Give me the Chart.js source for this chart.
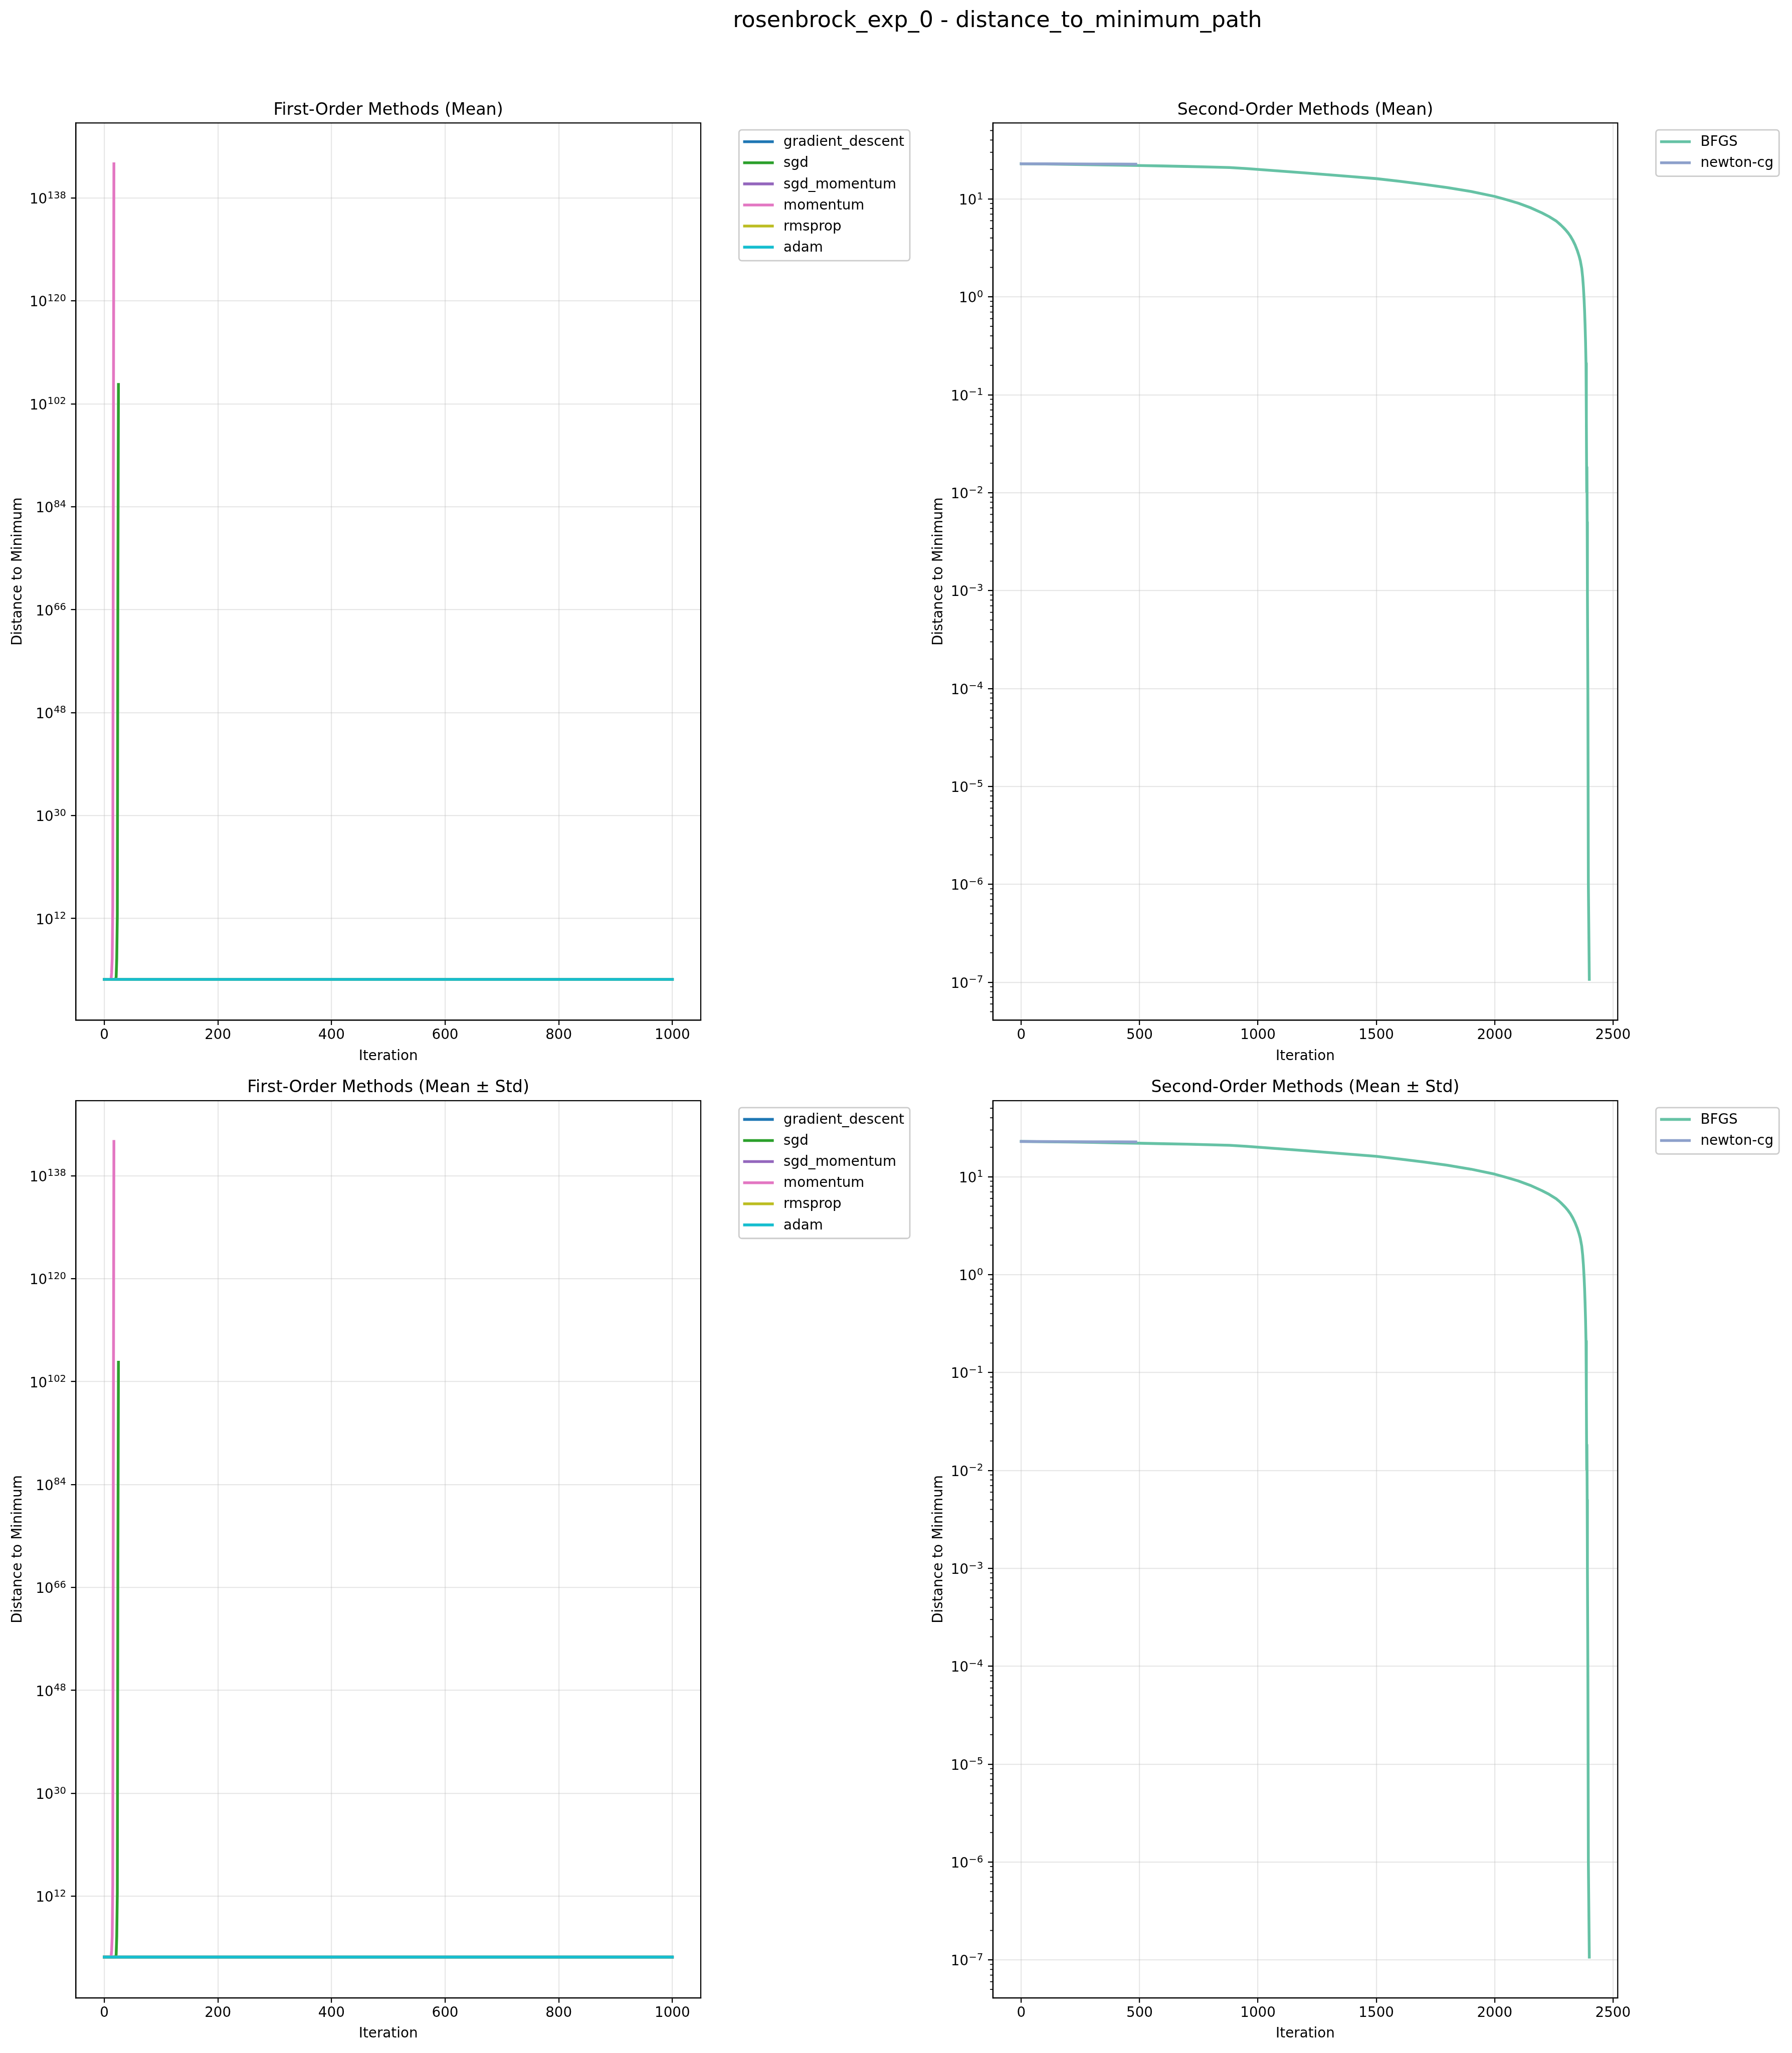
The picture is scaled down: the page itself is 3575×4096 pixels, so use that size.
<!DOCTYPE html>
<html>
<head>
<meta charset="utf-8">
<script src="https://cdn.jsdelivr.net/npm/chart.js"></script>
<style>
  html, body { margin: 0; padding: 0; background: #ffffff; }
  body { width: 3575px; height: 4096px; position: relative; overflow: hidden; }
  canvas { position: absolute; }
  #sup { position: absolute; left: 1990px; top: 17.4px; transform: translateX(-50%);
         font-family: 'DejaVu Sans'; font-size: 44.44px; line-height: 44.44px;
         color: #000; white-space: nowrap; z-index: 10; }
</style>
</head>
<body>
<div id="sup">rosenbrock_exp_0 - distance_to_minimum_path</div>
<canvas id="tl" width="1850" height="2140" style="left:0px;top:0px"></canvas>
<canvas id="tr" width="1725" height="2140" style="left:1850px;top:0px"></canvas>
<canvas id="bl" width="1850" height="1956" style="left:0px;top:2140px"></canvas>
<canvas id="br" width="1725" height="1956" style="left:1850px;top:2140px"></canvas>
<script>
// ---------------- DATA ----------------
const firstOrderMethods = ['gradient_descent', 'sgd', 'sgd_momentum', 'momentum', 'rmsprop', 'adam'];
const firstOrderColors  = ['#1f77b4', '#2ca02c', '#9467bd', '#e377c2', '#bcbd22', '#17becf'];

const gradientDescentIter = [0, 200, 400, 600, 800, 1000];
const gradientDescentDist = [22.91, 22.9, 22.9, 22.9, 22.9, 22.9];

const sgdIter = [0, 10, 20, 21, 22, 23, 24, 25];
const sgdDist = [22.91, 22.9, 23.4, 63, 1e5, 3.2e12, 1e70, 2.5e105];

const sgdMomentumIter = [0, 200, 400, 600, 800, 1000];
const sgdMomentumDist = [22.91, 22.9, 22.9, 22.9, 22.9, 22.9];

const momentumIter = [0, 10, 12, 13, 14, 15, 16, 17];
const momentumDist = [22.91, 22.9, 23.4, 316, 1e5, 1e14, 1e90, 1e144];

const rmspropIter = [0, 200, 400, 600, 800, 1000];
const rmspropDist = [22.91, 22.9, 22.9, 22.9, 22.9, 22.9];

const adamIter = [0, 200, 400, 600, 800, 1000];
const adamDist = [22.91, 22.9, 22.9, 22.9, 22.9, 22.9];

const secondOrderMethods = ['BFGS', 'newton-cg'];
const secondOrderColors  = ['#66c2a5', '#8da0cb'];

const bfgsIter = [0, 100, 200, 300, 400, 500, 600, 700, 800, 880, 950, 1000, 1100, 1200, 1300, 1400,
  1500, 1600, 1700, 1800, 1900, 2000, 2050, 2100, 2150, 2200, 2230, 2260, 2270, 2280, 2290, 2300,
  2310, 2320, 2330, 2340, 2350, 2357, 2362, 2368, 2372, 2375, 2378, 2380, 2382, 2384, 2386, 2387,
  2388, 2389, 2390, 2391, 2392, 2394, 2396, 2400];
const bfgsDist = [22.91, 22.75, 22.59, 22.39, 22.18, 21.98, 21.73, 21.48, 21.18, 20.94, 20.46, 20.04,
  19.23, 18.45, 17.66, 16.90, 16.14, 15.14, 14.13, 13.09, 11.94, 10.62, 9.84, 9.06, 8.17, 7.21, 6.61,
  5.96, 5.69, 5.41, 5.12, 4.83, 4.52, 4.18, 3.80, 3.39, 2.94, 2.60, 2.34, 1.95, 1.58, 1.26, 0.933,
  0.724, 0.525, 0.355, 0.209, 0.141, 0.0562, 0.0102, 0.0182, 0.0050, 1.0e-3, 8.0e-5, 1.0e-6, 1.07e-7];

const newtonCgIter = [0, 100, 200, 300, 400, 484];
const newtonCgDist = [22.91, 22.85, 22.80, 22.76, 22.72, 22.68];

// tick values
const firstOrderXTicks  = [0, 200, 400, 600, 800, 1000];
const secondOrderXTicks = [0, 500, 1000, 1500, 2000, 2500];
const firstOrderYExps   = [12, 30, 48, 66, 84, 102, 120, 138];
const secondOrderYExps  = [-7, -6, -5, -4, -3, -2, -1, 0, 1];

const suptitleText = 'rosenbrock_exp_0 - distance_to_minimum_path';
const titlesTop    = ['First-Order Methods (Mean)', 'Second-Order Methods (Mean)'];
const titlesBottom = ['First-Order Methods (Mean \u00b1 Std)', 'Second-Order Methods (Mean \u00b1 Std)'];
const xAxisLabel = 'Iteration';
const yAxisLabel = 'Distance to Minimum';

// ---------------- STYLE ----------------
const FF = "'DejaVu Sans'";
const FS = 27.78;        // 10pt
const EFS = 19.44;       // superscript size
const TFS = 33.33;       // 12pt
const LW = 5.56;         // 2pt
const SP = 2.22;         // 0.8pt
const GRID = 'rgba(176,176,176,0.3)';
Chart.defaults.font.family = FF;

function logBounds(series) {
  let lo = Infinity, hi = -Infinity;
  series.forEach(s => s.dist.forEach(v => { const l = Math.log10(v); if (l < lo) lo = l; if (l > hi) hi = l; }));
  const p = 0.05 * (hi - lo);
  return [Math.pow(10, lo - p), Math.pow(10, hi + p)];
}
function linBounds(series) {
  let lo = Infinity, hi = -Infinity;
  series.forEach(s => s.iter.forEach(v => { if (v < lo) lo = v; if (v > hi) hi = v; }));
  const p = 0.05 * (hi - lo);
  return [lo - p, hi + p];
}

const decor = {
  id: 'decor',
  afterDraw(chart, args, o) {
    const ctx = chart.ctx, a = chart.chartArea;
    const ys = chart.scales.y;
    ctx.save();
    // minor ticks (log axis)
    if (o.minor) {
      ctx.strokeStyle = '#000'; ctx.lineWidth = 1.67;
      for (let e = -9; e <= 2; e++) {
        for (let m = 2; m <= 9; m++) {
          const v = m * Math.pow(10, e);
          if (v < ys.min || v > ys.max) continue;
          const p = ys.getPixelForValue(v);
          ctx.beginPath(); ctx.moveTo(a.left - 5.56, p); ctx.lineTo(a.left, p); ctx.stroke();
        }
      }
    }
    // y tick labels: 10 with superscript exponent
    ctx.fillStyle = '#000'; ctx.textAlign = 'right'; ctx.textBaseline = 'alphabetic';
    ys.ticks.forEach(t => {
      const p = ys.getPixelForValue(t.value);
      const e = Math.round(Math.log10(t.value));
      const es = (e < 0 ? '\u2212' : '') + Math.abs(e);
      const xr = a.left - 19.44;
      ctx.font = EFS + 'px ' + FF;
      const ew = ctx.measureText(es).width;
      ctx.fillText(es, xr, p + 11.0 - 10.4);
      ctx.font = FS + 'px ' + FF;
      ctx.fillText('10', xr - ew - 0.5, p + 11.0);
    });
    // spines
    ctx.strokeStyle = '#000'; ctx.lineWidth = SP;
    ctx.strokeRect(a.left, a.top, a.right - a.left, a.bottom - a.top);
    // title
    ctx.fillStyle = '#000';
    ctx.textAlign = 'center'; ctx.textBaseline = 'alphabetic';
    ctx.font = TFS + 'px ' + FF;
    ctx.fillText(o.title, (a.left + a.right) / 2, a.top - 16.67);
    // x label
    ctx.font = FS + 'px ' + FF;
    ctx.fillText(xAxisLabel, (a.left + a.right) / 2, a.bottom + 79.3);
    // y label
    ctx.save();
    ctx.translate(o.yLabelX, (a.top + a.bottom) / 2);
    ctx.rotate(-Math.PI / 2);
    ctx.fillText(yAxisLabel, 0, 0);
    ctx.restore();
    // legend
    const pad = 11.11, hl = 55.56, htp = 22.22, ls = 13.89, rowH = 28.2;
    ctx.font = FS + 'px ' + FF;
    const items = chart.data.datasets.map(d => ({ label: d.label, color: d.borderColor }));
    const maxW = Math.max(...items.map(it => ctx.measureText(it.label).width));
    const bx = a.right + 0.05 * (a.right - a.left) + 13.89;
    const by = a.top + 13.89;
    const bw = pad + hl + htp + maxW + pad;
    const bh = 2 * pad + items.length * rowH + (items.length - 1) * ls;
    ctx.beginPath();
    ctx.roundRect(bx, by, bw, bh, 5.56);
    ctx.fillStyle = 'rgba(255,255,255,0.8)'; ctx.fill();
    ctx.strokeStyle = '#cccccc'; ctx.lineWidth = 2.78; ctx.stroke();
    items.forEach((it, i) => {
      const rt = by + pad + i * (rowH + ls);
      ctx.strokeStyle = it.color; ctx.lineWidth = LW; ctx.lineCap = 'square';
      ctx.beginPath(); ctx.moveTo(bx + pad, rt + 12.4); ctx.lineTo(bx + pad + hl, rt + 12.4); ctx.stroke();
      ctx.fillStyle = '#000'; ctx.textAlign = 'left'; ctx.textBaseline = 'alphabetic';
      ctx.fillText(it.label, bx + pad + hl + htp, rt + 21.1);
    });
    ctx.restore();
  }
};

function axisStyle(pad, show) {
  return {
    ticks: { display: show, font: { size: FS, family: FF }, color: '#000', padding: pad, autoSkip: false, maxRotation: 0, minRotation: 0 },
    grid: { color: GRID, lineWidth: SP, tickColor: '#000', tickWidth: SP, tickLength: 9.72, drawTicks: true, drawOnChartArea: true },
    border: { display: true, color: '#000', width: SP }
  };
}

function panel(id, spec) {
  const [xmin, xmax] = linBounds(spec.series);
  const [ymin, ymax] = logBounds(spec.series);
  const xs = axisStyle(4.5, true), ysty = axisStyle(9.72, false);
  return new Chart(document.getElementById(id), {
    type: 'line',
    data: {
      datasets: spec.series.map((s, i) => ({
        label: s.label,
        data: s.iter.map((x, j) => ({ x: x, y: s.dist[j] })),
        borderColor: s.color, backgroundColor: s.color,
        borderWidth: LW, pointRadius: 0, pointHoverRadius: 0, tension: 0, fill: false,
        borderJoinStyle: 'round', borderCapStyle: 'square', order: -i
      }))
    },
    options: {
      responsive: false, animation: false, devicePixelRatio: 1, events: [],
      layout: { autoPadding: false, padding: { left: 0, top: spec.top, right: spec.right, bottom: 0 } },
      plugins: {
        legend: { display: false }, title: { display: false }, tooltip: { enabled: false },
        decor: { title: spec.title, yLabelX: spec.yLabelX, minor: spec.minor }
      },
      scales: {
        x: Object.assign({
          type: 'linear', position: 'bottom', min: xmin, max: xmax,
          afterBuildTicks: sc => { sc.ticks = spec.xTicks.map(v => ({ value: v })); },
          afterFit: sc => { sc.height = spec.xH; }
        }, xs, { ticks: Object.assign({}, xs.ticks, { callback: v => String(v) }) }),
        y: Object.assign({
          type: 'logarithmic', position: 'left', min: ymin, max: ymax,
          afterBuildTicks: sc => { sc.ticks = spec.yExps.map(e => ({ value: Math.pow(10, e) })); },
          afterFit: sc => { sc.width = spec.yW; }
        }, ysty, { ticks: Object.assign({}, ysty.ticks, { callback: v => '10^' + Math.round(Math.log10(v)) }) })
      }
    },
    plugins: [decor]
  });
}

const firstSeries = [
  { iter: gradientDescentIter, dist: gradientDescentDist },
  { iter: sgdIter, dist: sgdDist },
  { iter: sgdMomentumIter, dist: sgdMomentumDist },
  { iter: momentumIter, dist: momentumDist },
  { iter: rmspropIter, dist: rmspropDist },
  { iter: adamIter, dist: adamDist }
].map((s, i) => Object.assign(s, { label: firstOrderMethods[i], color: firstOrderColors[i] }));

const secondSeries = [
  { iter: bfgsIter, dist: bfgsDist },
  { iter: newtonCgIter, dist: newtonCgDist }
].map((s, i) => Object.assign(s, { label: secondOrderMethods[i], color: secondOrderColors[i] }));

document.getElementById('sup').textContent = suptitleText;

panel('tl', { series: firstSeries, title: titlesTop[0], xTicks: firstOrderXTicks, yExps: firstOrderYExps,
  top: 245.3, right: 452, yW: 151.3, xH: 104.7, yLabelX: 42.5, minor: false });
panel('tr', { series: secondSeries, title: titlesTop[1], xTicks: secondOrderXTicks, yExps: secondOrderYExps,
  top: 245.3, right: 347.7, yW: 130.7, xH: 104.7, yLabelX: 29.6, minor: true });
panel('bl', { series: firstSeries, title: titlesBottom[0], xTicks: firstOrderXTicks, yExps: firstOrderYExps,
  top: 56, right: 452, yW: 151.3, xH: 110, yLabelX: 42.5, minor: false });
panel('br', { series: secondSeries, title: titlesBottom[1], xTicks: secondOrderXTicks, yExps: secondOrderYExps,
  top: 56, right: 347.7, yW: 130.7, xH: 110, yLabelX: 29.6, minor: true });
</script>
</body>
</html>
